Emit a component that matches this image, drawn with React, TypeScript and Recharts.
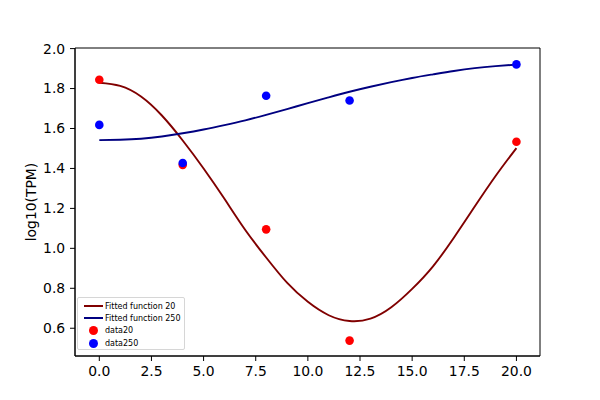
import {
  ComposedChart,
  Line,
  ReferenceArea,
  Scatter,
  XAxis,
  YAxis,
  ZAxis,
} from 'recharts';

// fitted curves at integer hours
const fitX = [0, 1, 2, 3, 4, 5, 6, 7, 8, 9, 10, 11, 12, 13, 14, 15, 16, 17, 18, 19, 20];
const fit20 = [
  1.829, 1.813, 1.76, 1.665, 1.54, 1.4, 1.248, 1.092, 0.954, 0.828, 0.732, 0.665, 0.636,
  0.648, 0.705, 0.797, 0.91, 1.053, 1.209, 1.362, 1.502,
];
const fit250 = [
  1.542, 1.544, 1.549, 1.56, 1.576, 1.595, 1.617, 1.641, 1.668, 1.697, 1.727, 1.756, 1.784,
  1.809, 1.832, 1.853, 1.871, 1.888, 1.902, 1.912, 1.92,
];

// measured samples
const sampleX = [0, 4, 8, 12, 20];
const data20 = [1.844, 1.418, 1.095, 0.538, 1.534];
const data250 = [1.618, 1.427, 1.764, 1.74, 1.921];

const xTicks = [0, 2.5, 5, 7.5, 10, 12.5, 15, 17.5, 20];
const yTicks = [0.6, 0.8, 1.0, 1.2, 1.4, 1.6, 1.8, 2.0];
const xDomain: [number, number] = [-1.165, 21.13];
const yDomain: [number, number] = [0.461, 2.003];

const FONT = '"DejaVu Sans", sans-serif';

const fit20Data = fitX.map((x, i) => ({ x, y: fit20[i] }));
const fit250Data = fitX.map((x, i) => ({ x, y: fit250[i] }));
const data20Pts = sampleX.map((x, i) => ({ x, y: data20[i] }));
const data250Pts = sampleX.map((x, i) => ({ x, y: data250[i] }));

const legendItems = [
  { name: 'Fitted function 20', color: '#800000', kind: 'line' },
  { name: 'Fitted function 250', color: '#000080', kind: 'line' },
  { name: 'data20', color: '#ff0000', kind: 'dot' },
  { name: 'data250', color: '#0000ff', kind: 'dot' },
];

function YLabel({ viewBox }: { viewBox?: { x: number; y: number; width: number; height: number } }) {
  if (!viewBox) return null;
  const cx = viewBox.x + 31;
  const cy = viewBox.y + viewBox.height / 2;
  return (
    <text
      x={cx}
      y={cy}
      transform={`rotate(-90, ${cx}, ${cy})`}
      textAnchor="middle"
      dominantBaseline="central"
      fontSize={13.9}
      fontFamily={FONT}
      fill="#000"
    >
      log10(TPM)
    </text>
  );
}

export default function App() {
  const tick = { fontSize: 13.9, fill: '#000', fontFamily: FONT };
  return (
    <div
      style={{
        position: 'absolute',
        left: 0,
        top: 0,
        width: 600,
        height: 400,
        background: '#fff',
      }}
    >
      <ComposedChart width={600} height={400} margin={{ top: 48, right: 60, bottom: 0, left: 0 }}>
        <XAxis
          type="number"
          dataKey="x"
          domain={xDomain}
          ticks={xTicks}
          tickFormatter={(v: number) => v.toFixed(1)}
          allowDataOverflow
          height={44}
          tick={tick}
          tickSize={5}
          tickMargin={5.5}
          axisLine={{ stroke: '#000' }}
          tickLine={{ stroke: '#000' }}
        />
        <YAxis
          type="number"
          dataKey="y"
          domain={yDomain}
          ticks={yTicks}
          tickFormatter={(v: number) => v.toFixed(1)}
          allowDataOverflow
          width={75}
          tick={tick}
          tickSize={5}
          tickMargin={4.8}
          axisLine={{ stroke: '#000' }}
          tickLine={{ stroke: '#000' }}
          label={<YLabel />}
        />
        <ZAxis range={[58, 58]} />
        <ReferenceArea
          x1={xDomain[0]}
          x2={xDomain[1]}
          y1={yDomain[0]}
          y2={yDomain[1]}
          fill="none"
          stroke="#000"
          strokeWidth={1}
        />
        <Line
          data={fit20Data}
          dataKey="y"
          type="natural"
          stroke="#800000"
          strokeWidth={1.9}
          dot={false}
          isAnimationActive={false}
        />
        <Line
          data={fit250Data}
          dataKey="y"
          type="natural"
          stroke="#000080"
          strokeWidth={1.9}
          dot={false}
          isAnimationActive={false}
        />
        <Scatter data={data20Pts} dataKey="y" fill="#ff0000" isAnimationActive={false} />
        <Scatter data={data250Pts} dataKey="y" fill="#0000ff" isAnimationActive={false} />
      </ComposedChart>
      <div
        style={{
          position: 'absolute',
          left: 77,
          top: 297,
          width: 108,
          height: 53,
          border: '1px solid #d6d6d6',
          borderRadius: 2,
          background: 'rgba(255,255,255,0.8)',
          fontFamily: FONT,
          fontSize: 8,
          color: '#000',
          boxSizing: 'border-box',
          paddingTop: 2,
        }}
      >
        {legendItems.map((item) => (
          <div
            key={item.name}
            style={{ display: 'flex', alignItems: 'center', height: 12.3, whiteSpace: 'nowrap' }}
          >
            <div style={{ width: 27, display: 'flex', justifyContent: 'center' }}>
              {item.kind === 'line' ? (
                <div style={{ width: 19, height: 2, background: item.color, marginLeft: 3 }} />
              ) : (
                <div
                  style={{
                    width: 9,
                    height: 9,
                    borderRadius: '50%',
                    background: item.color,
                    marginLeft: 3,
                  }}
                />
              )}
            </div>
            <span>{item.name}</span>
          </div>
        ))}
      </div>
    </div>
  );
}
